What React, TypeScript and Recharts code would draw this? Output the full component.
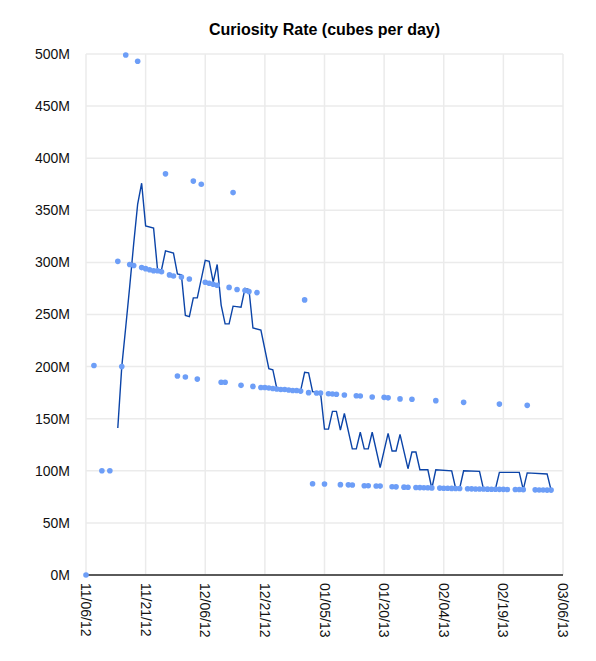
import { ComposedChart, Line, Scatter, XAxis, YAxis, CartesianGrid } from 'recharts';

// day index from 11/06/12, value in millions of cubes
const dotDays = [
  0, 2, 4, 6, 8, 9, 10, 13, 11, 12, 14, 15, 16, 17, 18, 19, 21, 22, 24, 26,
  30, 31, 32, 33, 36, 38, 40, 41, 43, 20, 27, 29, 37, 55,
  23, 25, 28, 34, 35, 39, 42, 44, 45, 46, 47, 48, 49, 50, 51, 52, 53, 54,
  56, 58, 59, 61, 62, 63, 65, 68, 69, 72, 75, 76, 79, 82, 88, 95, 104, 111,
  57, 60, 64, 66, 67, 70, 71, 73, 74, 77, 78, 80, 81, 83, 84, 85, 86, 87,
  89, 90, 91, 92, 93, 94, 96, 97, 98, 99, 100, 101, 102, 103, 104, 105,
  106, 108, 109, 110, 113, 114, 115, 116, 117,
];
const dotValues = [
  0, 201, 100, 100, 301, 200, 499, 493, 298, 297, 295, 294, 293, 292, 292, 291, 288, 287, 286, 284,
  281, 280, 279, 278, 276, 274, 273, 272, 271, 385, 378, 375, 367, 264,
  191, 190, 188, 185, 185, 182, 181, 180, 180, 179.5, 179, 178.5, 178, 178, 177.5, 177, 177, 176.5,
  175, 174.7, 174.7, 174, 173.7, 173.4, 172.7, 172, 171.8, 170.8, 170.5, 170, 169, 168.6, 167.3, 165.7, 164, 162.8,
  87.6, 87.3, 86.7, 86.5, 86.4, 85.7, 85.6, 85.4, 85.3, 84.7, 84.6, 84.3, 84.2, 84, 83.9, 83.8, 83.7, 83.6,
  83.4, 83.3, 83.2, 83.1, 83, 83, 82.8, 82.7, 82.6, 82.5, 82.5, 82.4, 82.3, 82.3, 82.2, 82.2,
  82, 82, 82, 81.9, 81.7, 81.6, 81.6, 81.5, 81.5,
];

const lineDays = [
  8, 9, 10, 11, 12, 13, 14, 15, 17, 18, 19, 20, 22, 23, 24, 25, 26, 27, 28, 30,
  31, 32, 33, 34, 35, 36, 37, 39, 40, 41, 42, 44, 46, 47, 48, 54, 55, 56, 57, 59,
  60, 61, 62, 63, 64, 65, 67, 68, 69, 70, 71, 72, 74, 76, 77, 78, 79, 81, 82, 83,
  84, 86, 87, 88, 92, 93, 94, 95, 99, 100, 103, 104, 109, 110, 111, 116, 117,
];
const lineValues = [
  141, 200, 238, 277, 318, 356, 376, 335, 333, 293, 293, 311, 309, 289, 288, 249, 248, 266, 266, 302,
  301, 281, 298, 259, 241, 241, 258, 257, 275, 274, 237, 235, 198, 197, 179, 177, 194.5, 194, 176, 175,
  140, 140, 157, 157, 139, 155, 121, 121, 137, 121, 121, 137, 103, 136, 119, 119, 135, 102, 118, 118,
  101, 101, 83, 101, 100, 83, 83, 100, 99.5, 82.5, 82.5, 98.5, 98.5, 82, 98, 97, 81.5,
];

const xTicks = [0, 15, 30, 45, 60, 75, 90, 105, 120];
const xLabels = ['11/06/12', '11/21/12', '12/06/12', '12/21/12', '01/05/13', '01/20/13', '02/04/13', '02/19/13', '03/06/13'];
const yTicks = [0, 50, 100, 150, 200, 250, 300, 350, 400, 450, 500];

const dots = dotDays.map((day, i) => ({ day, v: dotValues[i] }));
const line = lineDays.map((day, i) => ({ day, v: lineValues[i] }));

const font = '"Liberation Sans", Arial, Helvetica, sans-serif';

const DateTick = (props: any) => {
  const { x, y, payload } = props;
  const idx = xTicks.indexOf(payload.value);
  return (
    <text
      transform={`translate(${x},${y}) rotate(90)`}
      textAnchor="start"
      dominantBaseline="central"
      fontSize={14}
      fontFamily={font}
      fill="#111"
    >
      {xLabels[idx]}
    </text>
  );
};

const Dot = (props: any) => <circle cx={props.cx} cy={props.cy} r={2.8} fill="#6d9ef7" />;

export default function App() {
  return (
    <div style={{ position: 'relative', width: 588, height: 645 }}>
      <div
        style={{
          position: 'absolute',
          left: 78,
          width: 477,
          top: 12,
          textAlign: 'center',
          fontFamily: font,
          fontWeight: 'bold',
          fontSize: 16,
          lineHeight: '19px',
          color: '#000',
        }}
      >
        Curiosity Rate (cubes per day)
      </div>
      <ComposedChart width={588} height={645} margin={{ top: 46, right: 33, left: 0, bottom: 8 }}>
        <CartesianGrid stroke="#ebebeb" strokeWidth={1.5} />
        <XAxis
          type="number"
          dataKey="day"
          domain={[0, 120]}
          ticks={xTicks}
          interval={0}
          height={70}
          tickLine={false}
          tickSize={0}
          tickMargin={8}
          axisLine={{ stroke: '#5a5a5a', strokeWidth: 2 }}
          tick={<DateTick />}
        />
        <YAxis
          type="number"
          domain={[0, 500]}
          ticks={yTicks}
          interval={0}
          width={78}
          tickLine={false}
          tickSize={8}
          tickMargin={8}
          axisLine={false}
          tickFormatter={(v) => `${v}M`}
          tick={{ fontSize: 14, fontFamily: font, fill: '#111' }}
        />
        <Scatter data={dots} dataKey="v" shape={<Dot />} isAnimationActive={false} />
        <Line
          data={line}
          dataKey="v"
          type="linear"
          stroke="#0b44a8"
          strokeWidth={1.4}
          dot={false}
          activeDot={false}
          isAnimationActive={false}
        />
      </ComposedChart>
    </div>
  );
}
